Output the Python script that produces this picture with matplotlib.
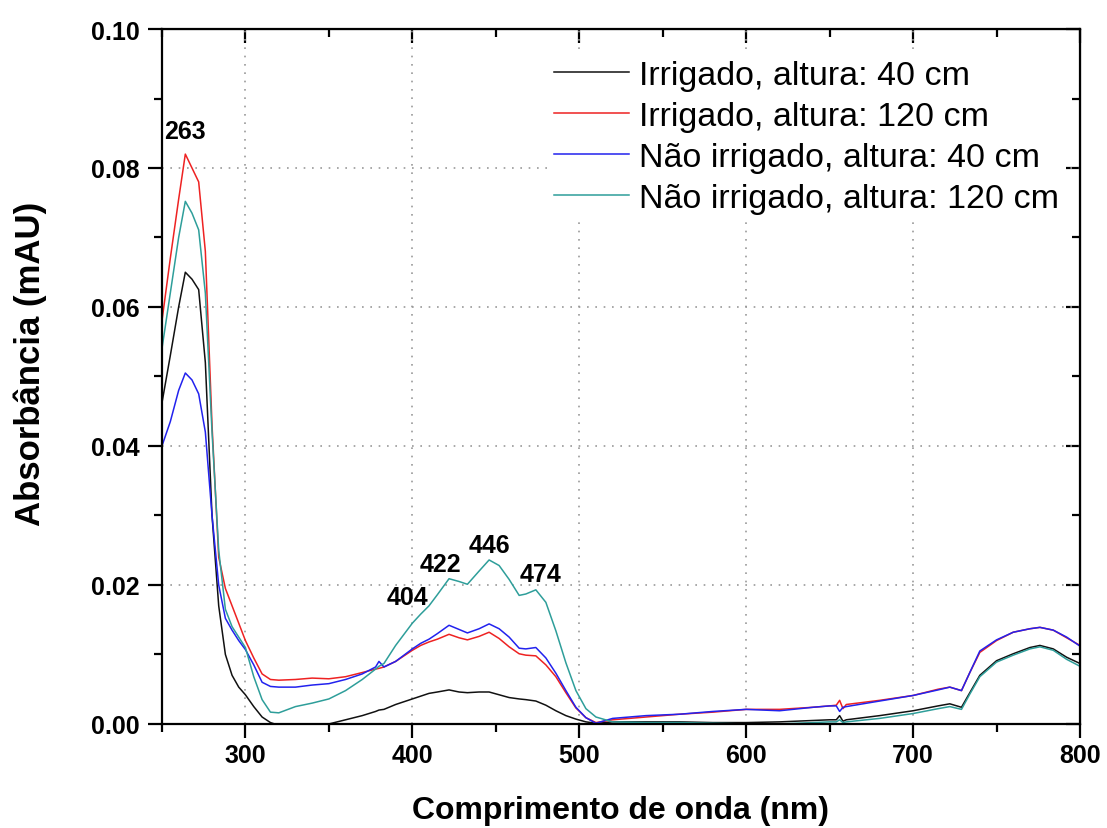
import numpy as np
import matplotlib.pyplot as plt

plt.rcParams['font.family'] = ['Liberation Sans', 'DejaVu Sans']

# wavelength grid (nm)
wl = [250, 255, 260, 264, 268, 272, 276, 280, 284, 288, 292, 296, 300, 305, 310,
      315, 320, 330, 340, 350, 360, 370, 378, 380, 383, 390, 400, 405, 410, 415,
      422, 428, 433, 440, 446, 452, 458, 464, 468, 474, 480, 486, 492, 498, 504,
      510, 520, 540, 560, 580, 600, 620, 640, 650, 654, 656, 658, 660, 680, 700,
      715, 722, 729, 734, 740, 750, 760, 770, 776, 784, 792, 800]

irr_40 = [0.0462, 0.0530, 0.0600, 0.0650, 0.0640, 0.0625, 0.0520, 0.0300, 0.0170, 0.0100,
          0.0070, 0.0053, 0.0042, 0.0025, 0.0010, 0.0002, -0.0002, -0.0004, -0.0003, 0.0000,
          0.0006, 0.0012, 0.0018, 0.0020, 0.0021, 0.0028, 0.0036, 0.0040, 0.0044, 0.0046,
          0.0049, 0.0046, 0.0045, 0.0046, 0.0046, 0.0042, 0.0038, 0.0036, 0.0035, 0.0033,
          0.0027, 0.0019, 0.0012, 0.0007, 0.0003, 0.0001, 0.0003, 0.0003, 0.0003, 0.0002,
          0.0002, 0.0003, 0.0005, 0.0006, 0.0006, 0.0012, 0.0004, 0.0006, 0.0012, 0.0019,
          0.0026, 0.0029, 0.0024, 0.0045, 0.0070, 0.0091, 0.0101, 0.0110, 0.0113, 0.0108,
          0.0096, 0.0087]

irr_120 = [0.0580, 0.0670, 0.0755, 0.0820, 0.0800, 0.0780, 0.0680, 0.0430, 0.0240, 0.0195,
           0.0170, 0.0145, 0.0120, 0.0095, 0.0072, 0.0064, 0.0063, 0.0064, 0.0066, 0.0065,
           0.0068, 0.0074, 0.0079, 0.0080, 0.0082, 0.0090, 0.0106, 0.0113, 0.0118, 0.0122,
           0.0129, 0.0124, 0.0121, 0.0126, 0.0132, 0.0123, 0.0111, 0.0101, 0.0099, 0.0098,
           0.0085, 0.0068, 0.0045, 0.0023, 0.0009, 0.0002, 0.0006, 0.0010, 0.0014, 0.0017,
           0.0021, 0.0021, 0.0024, 0.0026, 0.0027, 0.0034, 0.0022, 0.0028, 0.0034, 0.0041,
           0.0050, 0.0053, 0.0048, 0.0074, 0.0103, 0.0120, 0.0132, 0.0137, 0.0139, 0.0135,
           0.0124, 0.0113]

nirr_40 = [0.0400, 0.0435, 0.0480, 0.0505, 0.0495, 0.0475, 0.0420, 0.0300, 0.0200, 0.0152,
           0.0135, 0.0120, 0.0107, 0.0085, 0.0060, 0.0054, 0.0053, 0.0053, 0.0056, 0.0058,
           0.0064, 0.0072, 0.0082, 0.0090, 0.0082, 0.0090, 0.0108, 0.0116, 0.0122, 0.0130,
           0.0142, 0.0136, 0.0131, 0.0137, 0.0144, 0.0137, 0.0125, 0.0109, 0.0108, 0.0110,
           0.0095, 0.0073, 0.0048, 0.0024, 0.0009, 0.0001, 0.0008, 0.0012, 0.0014, 0.0018,
           0.0021, 0.0019, 0.0024, 0.0026, 0.0026, 0.0018, 0.0024, 0.0025, 0.0033, 0.0041,
           0.0049, 0.0053, 0.0048, 0.0074, 0.0105, 0.0121, 0.0132, 0.0137, 0.0139, 0.0135,
           0.0125, 0.0112]

nirr_120 = [0.0540, 0.0620, 0.0700, 0.0752, 0.0735, 0.0711, 0.0620, 0.0420, 0.0250, 0.0165,
            0.0140, 0.0125, 0.0110, 0.0068, 0.0035, 0.0017, 0.0016, 0.0025, 0.0030, 0.0036,
            0.0048, 0.0064, 0.0079, 0.0083, 0.0087, 0.0113, 0.0145, 0.0158, 0.0170, 0.0186,
            0.0209, 0.0205, 0.0201, 0.0220, 0.0236, 0.0228, 0.0208, 0.0185, 0.0187, 0.0193,
            0.0175, 0.0134, 0.0088, 0.0048, 0.0022, 0.0010, 0.0003, 0.0002, 0.0002, 0.0001,
            0.0000, 0.0000, 0.0002, 0.0003, 0.0003, 0.0006, 0.0002, 0.0003, 0.0008, 0.0015,
            0.0022, 0.0025, 0.0021, 0.0043, 0.0068, 0.0089, 0.0099, 0.0108, 0.0111, 0.0106,
            0.0093, 0.0083]

labels = ['Irrigado, altura: 40 cm', 'Irrigado, altura: 120 cm',
          'Não irrigado, altura: 40 cm', 'Não irrigado, altura: 120 cm']
colors = ['#111111', '#ee2222', '#2222ee', '#2e9e9a']

peak_text = ['263', '404', '422', '446', '474']
peak_pos = [(264, 0.0853), (397, 0.0183), (417, 0.0230), (446, 0.0258), (476.5, 0.0216)]

fig = plt.figure(figsize=(11.07, 8.29), dpi=100)
ax = fig.add_axes([0.1463, 0.1255, 0.8293, 0.8383])

for ys, lab, c in zip([irr_40, irr_120, nirr_40, nirr_120], labels, colors):
    ax.plot(wl, ys, color=c, lw=1.1, label=lab)

ax.set_xlim(250, 800)
ax.set_ylim(0, 0.10)
ax.set_xticks([300, 400, 500, 600, 700, 800])
ax.set_xticks([250, 350, 450, 550, 650, 750], minor=True)
ax.set_yticks(np.arange(0, 0.101, 0.02))
ax.set_yticks(np.arange(0.01, 0.1, 0.02), minor=True)
ax.set_yticklabels(['%.2f' % v for v in np.arange(0, 0.101, 0.02)])
ax.grid(True, which='major', linestyle=(0, (1, 4)), color='#999999', lw=1.2)

for s in ax.spines.values():
    s.set_linewidth(1.6)
ax.tick_params(which='both', direction='out', width=1.6, labelsize=18)
ax.tick_params(axis='x', pad=4)
ax.tick_params(axis='y', pad=6)
ax.tick_params(which='major', length=10)
ax.tick_params(which='minor', length=6)
for t in ax.get_xticklabels() + ax.get_yticklabels():
    t.set_fontweight('bold')

top = ax.secondary_xaxis('top')
top.set_xticks([300, 400, 500, 600, 700, 800])
top.set_xticks([250, 350, 450, 550, 650, 750], minor=True)
top.tick_params(which='both', direction='in', width=1.6, labeltop=False)
top.tick_params(which='major', length=10)
top.tick_params(which='minor', length=6)
right = ax.secondary_yaxis('right')
right.set_yticks(np.arange(0, 0.101, 0.02))
right.set_yticks(np.arange(0.01, 0.1, 0.02), minor=True)
right.tick_params(which='both', direction='in', width=1.6, labelright=False)
right.tick_params(which='major', length=10)
right.tick_params(which='minor', length=6)

for (x, y), txt in zip(peak_pos, peak_text):
    ax.text(x, y, txt, fontsize=18, fontweight='bold', ha='center', va='center')

ax.set_xlabel('Comprimento de onda (nm)', fontsize=23, fontweight='bold', labelpad=20)
ax.set_ylabel('Absorbância (mAU)', fontsize=25, fontweight='bold')
ax.yaxis.set_label_coords(-0.125, 0.52)

leg = ax.legend(loc='upper right', bbox_to_anchor=(0.9845, 0.965), frameon=True,
                fontsize=24.5, handlelength=2.2, handletextpad=0.3, labelspacing=0.29,
                borderpad=0.2, borderaxespad=0)
leg.get_frame().set_edgecolor('none')
leg.get_frame().set_facecolor('white')
leg.get_frame().set_alpha(1.0)

fig.savefig('out.png', dpi=100)
